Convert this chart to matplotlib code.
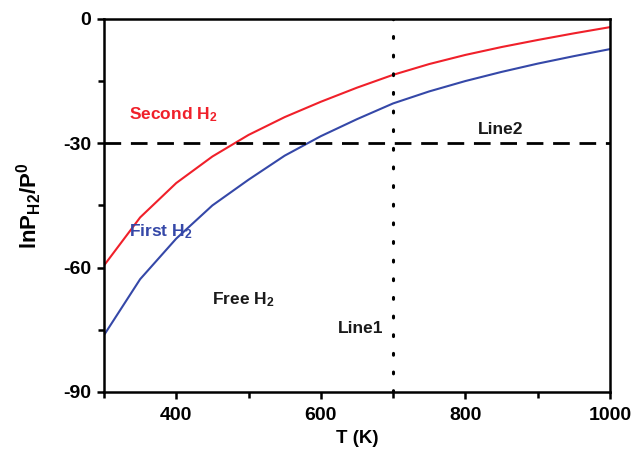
import matplotlib
matplotlib.use("Agg")
import matplotlib.pyplot as plt
from matplotlib.ticker import MultipleLocator

plt.rcParams['font.family'] = ['Liberation Sans', 'DejaVu Sans']
plt.rcParams['font.weight'] = 'bold'
plt.rcParams['axes.unicode_minus'] = False
plt.rcParams['mathtext.fontset'] = 'custom'
plt.rcParams['mathtext.rm'] = 'Liberation Sans:bold'
plt.rcParams['mathtext.bf'] = 'Liberation Sans:bold'
plt.rcParams['mathtext.default'] = 'rm'

# temperatures (K) and lnP/P0
T = [300, 350, 400, 450, 500, 550, 600, 650, 700, 750, 800, 850, 900, 950, 1000]
second_h2 = [-59.5, -47.9, -39.6, -33.2, -28.0, -23.7, -20.0, -16.6, -13.5,
             -10.9, -8.7, -6.8, -5.1, -3.5, -2.0]
first_h2 = [-76.3, -62.8, -53.0, -45.0, -38.8, -33.0, -28.3, -24.2, -20.4,
            -17.5, -15.0, -12.8, -10.8, -9.0, -7.3]
line1_T = 700
line2_val = -30

fig = plt.figure(figsize=(6.34, 4.49), dpi=100)
ax = fig.add_axes([0.164, 0.127, 0.798, 0.831])

ax.plot(T, second_h2, color='#f0202a', lw=1.5)
ax.plot(T, first_h2, color='#3548a8', lw=1.5)
ax.axvline(line1_T, color='black', lw=2.2, ls=(0, (0.6, 5.5)), dash_capstyle='round')
ax.axhline(line2_val, color='black', lw=2.0, ls=(0, (6, 3.5)))

ax.text(335, -23.2, r'Second H$_2$', color='#f0202a', fontsize=12.5, va='center')
ax.text(335, -51.4, r'First H$_2$', color='#3548a8', fontsize=12.5, va='center')
ax.text(449, -67.8, r'Free H$_2$', color='#1a1a1a', fontsize=12.5, va='center')
ax.text(687, -74.6, 'Line1', color='#1a1a1a', fontsize=12.5, va='center', ha='right')
ax.text(849, -26.8, 'Line2', color='#1a1a1a', fontsize=12.5, va='center', ha='center')

ax.set_xlim(300, 1000)
ax.set_ylim(-90, 0)
ax.set_xticks([400, 600, 800, 1000])
ax.xaxis.set_minor_locator(MultipleLocator(100))
ax.yaxis.set_major_locator(MultipleLocator(30))
ax.yaxis.set_minor_locator(MultipleLocator(15))

for s in ax.spines.values():
    s.set_linewidth(1.8)
ax.tick_params(which='major', direction='out', length=5, width=1.8, labelsize=14, pad=4)
ax.tick_params(which='minor', direction='out', length=4, width=1.8)
ax.tick_params(axis='x', which='major', pad=6)
for lab in ax.get_xticklabels() + ax.get_yticklabels():
    lab.set_fontweight('bold')

ax.set_xlabel('T (K)', fontsize=13.5, fontweight='bold', labelpad=4)
ax.set_ylabel(r'lnP$_{\mathregular{H2}}$/P$^{\mathregular{0}}$', fontsize=16,
              fontweight='bold', labelpad=14)

fig.savefig('out.png', dpi=100)
